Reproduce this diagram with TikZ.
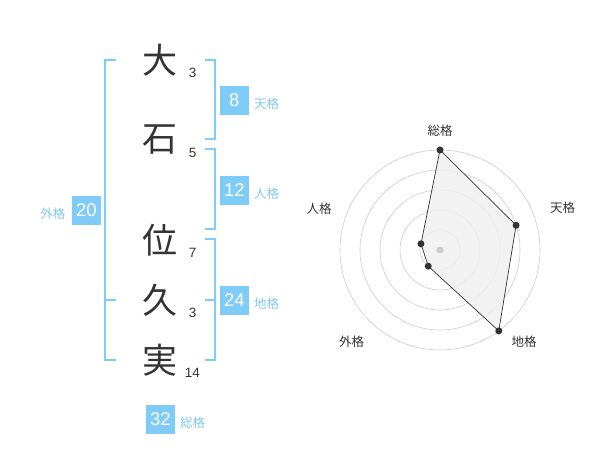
\documentclass[tikz,border=0pt]{standalone}
\usepackage{fontspec}
\setmainfont{Liberation Sans}
\newfontfamily\cjk{Noto Sans CJK JP}
\definecolor{bblue}{RGB}{128,204,248}
\definecolor{lblue}{RGB}{130,200,240}
\definecolor{dtext}{RGB}{51,51,51}
\definecolor{ring}{RGB}{204,204,204}
\definecolor{polyfill}{RGB}{240,240,240}
\begin{document}
\begin{tikzpicture}[x=1pt,y=-1pt,
  kanji/.style={font=\cjk\fontsize{35}{35}\selectfont, text=dtext, inner sep=0pt},
  strokes/.style={font=\fontsize{13.5}{13.5}\selectfont, text=dtext, inner sep=0pt},
  valbox/.style={fill=bblue, text=white, minimum width=28.7pt, minimum height=28.7pt, inner sep=0pt, font=\fontsize{18.5}{18.5}\selectfont},
  kaku/.style={font=\cjk\fontsize{12.5}{12.5}\selectfont, text=lblue, inner sep=0pt},
  brk/.style={draw=bblue, line width=1.8pt},
  rlabel/.style={font=\cjk\fontsize{12.5}{12.5}\selectfont, text=dtext, inner sep=0pt},
  dot/.style={circle, fill=dtext, minimum size=7pt, inner sep=0pt},
  ringc/.style={draw=ring, line width=0.6pt}
]
\useasboundingbox (0,0) rectangle (600,470);
% characters
\node[kanji] (c1) at (160,60) {大};
\node[kanji] (c2) at (160,140) {石};
\node[kanji] (c3) at (160,240) {位};
\node[kanji] (c4) at (160,300) {久};
\node[kanji] (c5) at (160,360) {実};
\node[strokes] (n1) at (192.7,72.7) {3};
\node[strokes] (n2) at (192.7,152.7) {5};
\node[strokes] (n3) at (192.7,252.7) {7};
\node[strokes] (n4) at (192.7,313) {3};
\node[strokes] (n5) at (192.3,373.3) {14};
% brackets
\draw[brk] (205,60) -- (215,60) -- (215,139.3) -- (205,139.3);
\draw[brk] (205,149.3) -- (215,149.3) -- (215,229.3) -- (205,229.3);
\draw[brk] (205,239.3) -- (215,239.3) -- (215,360) -- (205,360);
\draw[brk] (205,300) -- (215,300);
\draw[brk] (116,60) -- (105,60) -- (105,360) -- (116,360);
\draw[brk] (105,300) -- (116,300);
% value boxes
\node[valbox] (b8) at (234.3,100.3) {8};
\node[kaku, anchor=west] (k8) at (254,103.5) {天格};
\node[valbox] (b12) at (234.3,190.3) {12};
\node[kaku, anchor=west] (k12) at (254,193.5) {人格};
\node[valbox] (b24) at (234.3,300.3) {24};
\node[kaku, anchor=west] (k24) at (254,303.5) {地格};
\node[valbox] (b20) at (86.3,210.3) {20};
\node[kaku, anchor=east] (k20) at (65.5,213.5) {外格};
\node[valbox] (b32) at (160.3,419.3) {32};
\node[kaku, anchor=west] (k32) at (180,422.5) {総格};
% radar
\coordinate (rc) at (440,250);
\foreach \r in {20,40,60,80,100} \draw[ringc] (rc) circle[radius=\r];
\path (rc) ++(-90:100) coordinate (p1);
\path (rc) ++(-18:80) coordinate (p2);
\path (rc) ++(54:100) coordinate (p3);
\path (rc) ++(126:20) coordinate (p4);
\path (rc) ++(198:20) coordinate (p5);
\draw[fill=polyfill, fill opacity=0.85, draw=dtext, line width=0.7pt] (p1) -- (p2) -- (p3) -- (p4) -- (p5) -- cycle;
\fill[ring] (rc) circle[radius=3.5];
\foreach \p in {p1,p2,p3,p4,p5} \node[dot] at (\p) {};
\node[rlabel] (r1) at (440,130.5) {総格};
\node[rlabel] (r2) at (562.7,208) {天格};
\node[rlabel] (r3) at (524,342) {地格};
\node[rlabel] (r4) at (351.7,342) {外格};
\node[rlabel] (r5) at (319,209) {人格};
\end{tikzpicture}
\end{document}
